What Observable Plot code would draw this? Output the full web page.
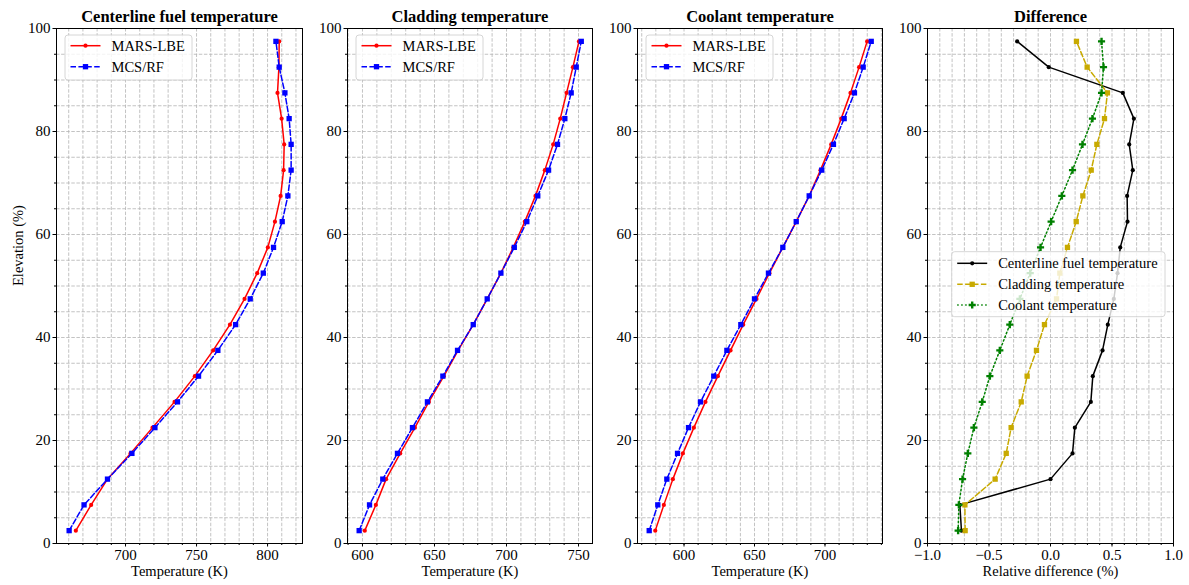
<!DOCTYPE html>
<html><head><meta charset="utf-8">
<script src="https://cdn.jsdelivr.net/npm/d3@7"></script>
<script src="https://cdn.jsdelivr.net/npm/@observablehq/plot@0.6"></script>
<style>
body{margin:0;background:#fff;}
#wrap{position:relative;width:1189px;height:585px;font-family:'Liberation Serif',serif;}
#wrap svg{position:absolute;top:0;overflow:visible;}
#wrap svg text{font-family:'Liberation Serif',serif !important;}
</style></head><body><div id="wrap"></div>
<script>
// Elevation (%) of each node, bottom to top
const elevation = [2.5,7.5,12.5,17.5,22.5,27.5,32.5,37.5,42.5,47.5,52.5,57.5,62.5,67.5,72.5,77.5,82.5,87.5,92.5,97.5];

// Centerline fuel temperature (K)
const fuelMars = [665.0,675.8,687.3,703.5,719.0,734.5,748.8,761.7,773.5,783.8,792.7,800.2,805.2,809.2,811.3,811.7,809.9,807.0,808.0,808.2];
const fuelMcs  = [660.3,670.8,687.3,704.5,720.7,736.6,751.4,765.0,777.5,787.8,797.0,804.2,810.3,814.3,816.6,816.6,815.2,812.2,808.2,805.9];

// Cladding temperature (K)
const cladMars = [601.6,609.3,616.4,626.2,636.4,646.1,656.5,666.4,676.9,686.6,696.1,704.7,712.7,720.1,726.6,732.4,737.3,741.7,746.1,750.3];
const cladMcs  = [597.7,604.9,614.1,624.3,634.7,645.1,655.8,666.0,676.9,686.6,696.1,705.4,714.1,721.7,729.2,735.4,740.5,744.9,748.4,751.9];

// Coolant temperature (K)
const coolMars = [579.6,585.7,592.1,599.2,607.0,615.2,624.0,633.0,642.0,651.4,660.6,670.1,679.6,688.8,696.8,704.4,711.5,718.1,724.2,729.9];
const coolMcs  = [575.3,581.4,587.8,595.4,603.2,611.7,621.1,630.4,640.3,650.0,659.9,670.1,679.6,688.8,697.7,706.0,713.6,720.9,727.1,732.8];

// Relative difference (%)
const diffFuel = [-0.724,-0.737,0.0,0.179,0.198,0.328,0.344,0.423,0.466,0.515,0.545,0.567,0.626,0.623,0.669,0.640,0.678,0.588,-0.014,-0.271];
const diffClad = [-0.694,-0.696,-0.450,-0.360,-0.320,-0.238,-0.190,-0.114,-0.049,0.049,0.076,0.138,0.209,0.263,0.331,0.377,0.439,0.463,0.298,0.211];
const diffCool = [-0.751,-0.745,-0.715,-0.672,-0.623,-0.555,-0.493,-0.412,-0.331,-0.249,-0.165,-0.081,0.005,0.092,0.179,0.260,0.341,0.415,0.431,0.415];

const titles = ["Centerline fuel temperature","Cladding temperature","Coolant temperature","Difference"];
const xLabels = ["Temperature (K)","Temperature (K)","Temperature (K)","Relative difference (%)"];
const yLabel = "Elevation (%)";
const seriesNames = ["MARS-LBE","MCS/RF"];
const diffNames = ["Centerline fuel temperature","Cladding temperature","Coolant temperature"];
const xTicks = [[700,750,800],[600,650,700,750],[600,650,700],[-1.0,-0.5,0.0,0.5,1.0]];
const yTicks = [0,20,40,60,80,100];

const FONT = "'Liberation Serif', serif";
const styleMars = {color:"#ff0000", dash:null, symbol:"circle", r:2.1};
const styleMcs  = {color:"#0000ff", dash:"5.5,2.4", symbol:"square", r:3};
const styleFuel = {color:"#000000", dash:null, symbol:"circle", r:2.1};
const styleClad = {color:"#c8aa00", dash:"5.5,2.4", symbol:"square", r:3};
const styleCool = {color:"#008000", dash:"1.5,2.5", symbol:"cross", r:3};

const mk = (vals, name, st) => ({rows: vals.map((v,i)=>({v, e: elevation[i]})), name, ...st});

const panels = [
  {left:0,   width:310, ml:56, mr:8,  domain:[651.4,824.6], minor:d3.range(660,825,10),
   series:[mk(fuelMars,seriesNames[0],styleMars), mk(fuelMcs,seriesNames[1],styleMcs)],
   legend:{x:9, y:7, w:127, h:45, rows:[10.7,31.7]}},
  {left:310, width:290, ml:37, mr:8,  domain:[589.6,759.7], minor:d3.range(590,760,10),
   series:[mk(cladMars,seriesNames[0],styleMars), mk(cladMcs,seriesNames[1],styleMcs)],
   legend:{x:9, y:7, w:127, h:45, rows:[10.7,31.7]}},
  {left:600, width:290, ml:37, mr:8,  domain:[567.0,740.8], minor:d3.range(570,741,10),
   series:[mk(coolMars,seriesNames[0],styleMars), mk(coolMcs,seriesNames[1],styleMcs)],
   legend:{x:9, y:7, w:127, h:45, rows:[10.7,31.7]}},
  {left:890, width:299, ml:37, mr:16, domain:[-1,1], minor:d3.range(-10,11).map(i=>i/10),
   series:[mk(diffFuel,diffNames[0],styleFuel), mk(diffClad,diffNames[1],styleClad), mk(diffCool,diffNames[2],styleCool)],
   legend:{x:24.7, y:223.7, w:213.3, h:65, rows:[11.6,32.6,53.3]}}
];

const MT = 28, MB = 42, H = 585;
const wrap = document.getElementById("wrap");
const gridStyle = {stroke:"#b4b4b4", strokeOpacity:1, strokeWidth:0.8, strokeDasharray:"3.5,1.6"};

panels.forEach((p, idx) => {
  const yMinor = d3.range(0,101,5);
  const marks = [
    Plot.gridX({ticks: Array.from(new Set([...p.minor, ...xTicks[idx]])), ...gridStyle}),
    Plot.gridY({ticks: yMinor, ...gridStyle}),
    Plot.axisX({ticks: p.minor, tickSize: 2, tickFormat: () => "", label: null}),
    Plot.axisY({ticks: yMinor, tickSize: 2, tickFormat: () => "", label: null}),
    Plot.axisX({ticks: xTicks[idx], tickSize: 3.5, tickPadding: 2.5, fontSize: 15, fontFamily: FONT, label: null,
      tickFormat: idx === 3 ? (d => (d < 0 ? "\u2212" : "") + Math.abs(d).toFixed(1)) : (d => String(d))}),
    Plot.axisY({ticks: yTicks, tickSize: 3.5, tickPadding: 2.5, fontSize: 15, fontFamily: FONT, label: null}),
  ];
  p.series.forEach(s => {
    marks.push(Plot.line(s.rows, {x:"v", y:"e", stroke:s.color, strokeWidth:1.5, strokeDasharray:s.dash ?? undefined}));
    marks.push(Plot.dot(s.rows, {x:"v", y:"e", symbol:s.symbol, r:s.r, fill:s.color, stroke:"none"}));
  });
  marks.push(Plot.frame({stroke:"black", strokeWidth:1}));
  marks.push(Plot.text([titles[idx]], {frameAnchor:"top", lineAnchor:"middle", dy:-12, fontWeight:"bold", fontSize:16.5, fontFamily: FONT, fill:"black"}));
  marks.push(Plot.text([xLabels[idx]], {frameAnchor:"bottom", lineAnchor:"middle", dy:28, fontSize:14.5, fontFamily: FONT, fill:"black"}));
  if (idx === 0) marks.push(Plot.text([yLabel], {frameAnchor:"left", lineAnchor:"middle", dx:-38, rotate:-90, fontSize:14.5, fontFamily: FONT, fill:"black"}));

  const svg = Plot.plot({
    width: p.width, height: H,
    marginLeft: p.ml, marginRight: p.mr, marginTop: MT, marginBottom: MB,
    x: {domain: p.domain, label: null},
    y: {domain: [0,100], label: null},
    style: {fontFamily: FONT, fontSize: "15px", color: "black", background: "transparent", overflow: "visible"},
    marks
  });
  svg.style.left = p.left + "px";
  wrap.appendChild(svg);

  // legend
  const L = p.legend;
  const g = d3.select(svg).append("g").attr("transform", `translate(${p.ml + L.x},${MT + L.y})`);
  g.append("rect").attr("width", L.w).attr("height", L.h).attr("rx", 3)
    .attr("fill", "white").attr("fill-opacity", 0.8).attr("stroke", "#cccccc").attr("stroke-width", 0.8);
  p.series.forEach((s, i) => {
    const yy = L.rows[i];
    g.append("line").attr("x1", 5.5).attr("x2", 35.5).attr("y1", yy).attr("y2", yy)
      .attr("stroke", s.color).attr("stroke-width", 1.5).attr("stroke-dasharray", s.dash);
    const sym = {circle: d3.symbolCircle, square: d3.symbolSquare, cross: d3.symbolCross}[s.symbol];
    g.append("path").attr("d", d3.symbol(sym, Math.PI * s.r * s.r)()).attr("transform", `translate(20.5,${yy})`).attr("fill", s.color);
    g.append("text").attr("x", 46.5).attr("y", yy).attr("dy", "0.35em").attr("font-size", 14.5)
      .attr("text-anchor", "start").attr("font-family", FONT).attr("fill", "black").text(s.name);
  });
});
</script></body></html>
